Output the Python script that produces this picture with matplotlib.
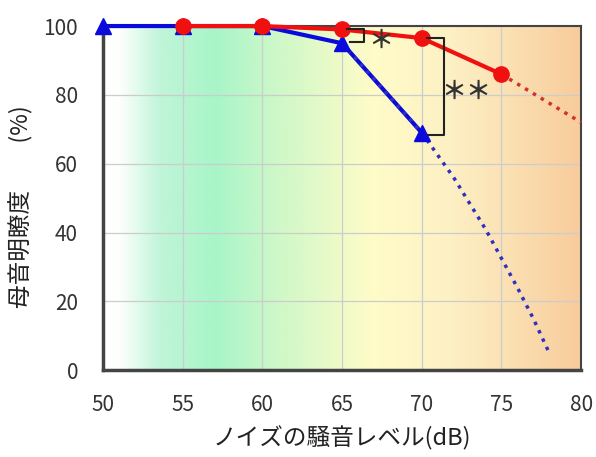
import numpy as np
import matplotlib.pyplot as plt
from matplotlib.colors import LinearSegmentedColormap

plt.rcParams['font.family'] = ['Noto Sans CJK JP', 'DejaVu Sans']

# data
red_x = [55, 60, 65, 70, 75]
red_y = [100, 100, 99, 96.5, 86]
red_fit_x = [75, 80]
red_fit_y = [86, 72]

blue_x = [50, 55, 60, 65, 70]
blue_y = [100, 100, 100, 95, 69]
blue_fit_x = [65, 70, 72, 74, 76, 77, 78]
blue_fit_y = [95, 69, 56, 41, 24, 15, 5]

xticks = [50, 55, 60, 65, 70, 75, 80]
yticks = [0, 20, 40, 60, 80, 100]

# background gradient stops (x position, colour)
bg_stops = [(50, '#ffffff'), (51.0, '#fdfffd'), (53.5, '#c0f5d8'), (57, '#a8f5c8'),
            (61, '#cff8c8'), (67, '#fffcc8'), (72, '#fdf0c4'), (80, '#f8cc9c')]

fig = plt.figure(figsize=(5.96, 4.57), dpi=100)
ax = fig.add_axes([0.173, 0.19, 0.802, 0.753])

cmap = LinearSegmentedColormap.from_list(
    'bg', [((x - 50) / 30, c) for x, c in bg_stops])
grad = np.linspace(0, 1, 600).reshape(1, -1)
ax.imshow(grad, cmap=cmap, extent=[50, 80, 0, 100], aspect='auto', zorder=0)

ax.set_xlim(50, 80)
ax.set_ylim(0, 100)
ax.set_xticks(xticks)
ax.set_yticks(yticks)
ax.grid(True, color='#cccccc', linewidth=0.9, zorder=1)
ax.tick_params(length=0, labelsize=15, labelcolor='#333333')
ax.tick_params(axis='x', pad=17)
ax.tick_params(axis='y', pad=18)

ax.plot(blue_x, blue_y, color='#0a0adc', linewidth=3, zorder=4, clip_on=False)
ax.plot(blue_fit_x, blue_fit_y, color='#3030c0', linestyle=':', linewidth=2.5, zorder=4.5, clip_on=False)
ax.plot(red_fit_x, red_fit_y, color='#d03030', linestyle=':', linewidth=2.5, zorder=3, clip_on=False)
ax.plot(blue_x, blue_y, color='#0a0adc', marker='^', markersize=12, linestyle='none', zorder=5, clip_on=False)
ax.plot(red_x, red_y, color='#f01010', marker='o', markersize=11, linewidth=3, zorder=6, clip_on=False)

# significance brackets
ax.plot([65.3, 66.4, 66.4, 65.5], [99.2, 99.2, 95.3, 95.3], color='#222222', linewidth=1.5, zorder=7)
ax.text(67.4, 95.8, '＊', fontsize=18, fontweight='bold', ha='center', va='center', color='#333333', zorder=7)
ax.plot([70.3, 71.4, 71.4, 70.4], [96.5, 96.5, 68.3, 68.3], color='#222222', linewidth=1.5, zorder=7)
ax.text(72.8, 81.0, '＊＊', fontsize=18, fontweight='bold', ha='center', va='center', color='#333333', zorder=7)

for s in ['left', 'bottom']:
    ax.spines[s].set_linewidth(2.5)
    ax.spines[s].set_color('#444444')
for s in ['top', 'right']:
    ax.spines[s].set_linewidth(1.5)
    ax.spines[s].set_color('#444444')

ax.set_xlabel('ノイズの騒音レベル(dB)', fontsize=17, color='#222222', labelpad=7)
ax.set_ylabel('母音明瞭度　　(%)', fontsize=17, color='#222222')
ax.yaxis.set_label_coords(-0.145, 0.475)

fig.savefig('out.png', dpi=100)
